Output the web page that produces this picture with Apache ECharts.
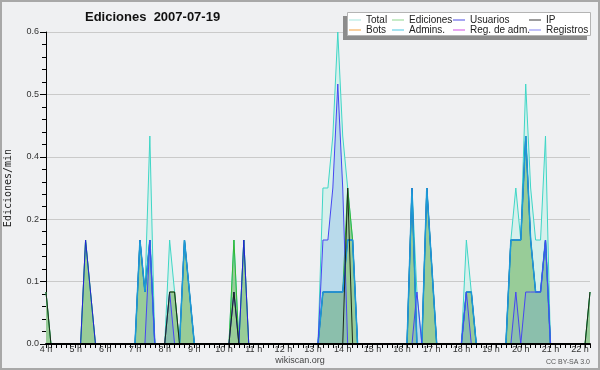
<!DOCTYPE html>
<html>
<head>
<meta charset="utf-8">
<script src="https://cdn.jsdelivr.net/npm/echarts@6/dist/echarts.min.js"></script>
<style>
html,body{margin:0;padding:0;background:#eff0f2;}
#chart{width:600px;height:370px;}
</style>
</head>
<body>
<div id="chart"></div>
<script>
// ---- axis / tick labels ----
const hourLabels = ['4 h','5 h','6 h','7 h','8 h','9 h','10 h','11 h','12 h','13 h','14 h','15 h','16 h','17 h','18 h','19 h','20 h','21 h','22 h'];
const yTickLabels = ['0.0','0.1','0.2','0.4','0.5','0.6'];
const startHour = 4, binMinutes = 10, binCount = 111; // 04:00 .. 22:20
const timeCategories = [];
for (let k = 0; k < binCount; k++) {
  const m = startHour * 60 + k * binMinutes;
  timeCategories.push(String(Math.floor(m / 60)).padStart(2, '0') + ':' + String(m % 60).padStart(2, '0'));
}

// ---- series values (edits/min), one row per hour, 10-minute bins ----
const total = [
  0.1,0,0,0,0,0,          // 4 h
  0,0,0.2,0.1,0,0,        // 5 h
  0,0,0,0,0,0,            // 6 h
  0,0.2,0.1,0.4,0,0,      // 7 h
  0,0.2,0.1,0,0.2,0.1,    // 8 h
  0,0,0,0,0,0,            // 9 h
  0,0,0.2,0,0.2,0,        // 10 h
  0,0,0,0,0,0,            // 11 h
  0,0,0,0,0,0,            // 12 h
  0,0,0.3,0.3,0.4,0.6,    // 13 h
  0.4,0.3,0.2,0,0,0,      // 14 h
  0,0,0,0,0,0,            // 15 h
  0,0,0.3,0.1,0,0.3,      // 16 h
  0.15,0,0,0,0,0,         // 17 h
  0,0.2,0.1,0,0,0,        // 18 h
  0,0,0,0,0.2,0.3,        // 19 h
  0.2,0.5,0.3,0.2,0.2,0.4,// 20 h
  0,0,0,0,0,0,            // 21 h
  0,0,0.1                 // 22 h
];
const ediciones = [
  0.1,0,0,0,0,0,
  0,0,0.2,0.1,0,0,
  0,0,0,0,0,0,
  0,0.2,0.1,0.2,0,0,
  0,0.1,0.1,0,0.2,0.1,
  0,0,0,0,0,0,
  0,0,0.2,0,0.2,0,
  0,0,0,0,0,0,
  0,0,0,0,0,0,
  0,0,0.1,0.1,0.1,0.1,
  0.1,0.3,0.2,0,0,0,
  0,0,0,0,0,0,
  0,0,0.3,0,0,0.3,
  0.15,0,0,0,0,0,
  0,0.1,0.1,0,0,0,
  0,0,0,0,0.2,0.2,
  0.2,0.4,0.2,0.1,0.1,0.2,
  0,0,0,0,0,0,
  0,0,0.1
];
const usuarios = [
  0,0,0,0,0,0,
  0,0,0.2,0.1,0,0,
  0,0,0,0,0,0,
  0,0.2,0.1,0.2,0,0,
  0,0,0,0,0.2,0.1,
  0,0,0,0,0,0,
  0,0,0.1,0,0.2,0,
  0,0,0,0,0,0,
  0,0,0,0,0,0,
  0,0,0.1,0.1,0.1,0.1,
  0.1,0.2,0.2,0,0,0,
  0,0,0,0,0,0,
  0,0,0.3,0,0,0.3,
  0.15,0,0,0,0,0,
  0,0.1,0.1,0,0,0,
  0,0,0,0,0.2,0.2,
  0.2,0.4,0.2,0.1,0.1,0.2,
  0,0,0,0,0,0,
  0,0,0
];
const ip = [
  0.1,0,0,0,0,0,
  0,0,0,0,0,0,
  0,0,0,0,0,0,
  0,0,0,0,0,0,
  0,0.1,0.1,0,0,0,
  0,0,0,0,0,0,
  0,0,0.1,0,0,0,
  0,0,0,0,0,0,
  0,0,0,0,0,0,
  0,0,0,0,0,0,
  0,0.3,0,0,0,0,
  0,0,0,0,0,0,
  0,0,0,0,0,0,
  0,0,0,0,0,0,
  0,0,0,0,0,0,
  0,0,0,0,0,0,
  0,0,0,0,0,0,
  0,0,0,0,0,0,
  0,0,0.1
];
const bots = [];
const admins = [
  0,0,0,0,0,0,
  0,0,0,0,0,0,
  0,0,0,0,0,0,
  0,0.2,0.1,0.2,0,0,
  0,0,0,0,0.2,0.1,
  0,0,0,0,0,0,
  0,0,0,0,0,0,
  0,0,0,0,0,0,
  0,0,0,0,0,0,
  0,0,0.1,0.1,0.1,0.1,
  0.1,0.2,0.2,0,0,0,
  0,0,0,0,0,0,
  0,0,0.3,0,0,0.3,
  0.15,0,0,0,0,0,
  0,0.1,0.1,0,0,0,
  0,0,0,0,0.2,0.2,
  0.2,0.4,0.2,0.1,0.1,0.2,
  0,0,0,0,0,0,
  0,0,0
];
const regAdm = [];
const registros = [
  0,0,0,0,0,0,
  0,0,0,0,0,0,
  0,0,0,0,0,0,
  0,0,0,0.2,0,0,
  0,0.1,0,0,0,0,
  0,0,0,0,0,0,
  0,0,0,0,0,0,
  0,0,0,0,0,0,
  0,0,0,0,0,0,
  0,0,0.2,0.2,0.3,0.5,
  0.3,0,0,0,0,0,
  0,0,0,0,0,0,
  0,0,0,0.1,0,0,
  0,0,0,0,0,0,
  0,0.1,0,0,0,0,
  0,0,0,0,0,0.1,
  0,0.1,0.1,0.1,0.1,0.2,
  0,0,0,0,0,0,
  0,0,0
];

const legendFont = {fontFamily:"'Liberation Sans', Arial, sans-serif", fontSize:10, color:'#222', lineHeight:10};
const axisFont = "'Liberation Sans Narrow','Liberation Sans',Arial,sans-serif";
const legendColors = {
  'Total':'#a6e6df', 'Ediciones':'#8ed68e', 'Usuarios':'#4a4ae2', 'IP':'#3a3a3a',
  'Bots':'#f2a040', 'Admins.':'#4cc6e0', 'Reg. de adm.':'#d04ee2', 'Registros':'#8282f2'
};

function lineSeries(name, data, color, width, area) {
  const s = {
    name, type:'line', data, symbol:'none', showSymbol:false, silent:true,
    lineStyle:{color, width}, itemStyle:{color},
    emphasis:{disabled:true}
  };
  if (area) s.areaStyle = {color: area, opacity: 1};
  return s;
}

function legendCol(items, left) {
  return {
    data: items.map(n => ({name:n, icon:'rect', itemStyle:{color:legendColors[n], borderWidth:0}})),
    orient:'vertical', left, top:15, padding:0, itemGap:0,
    itemWidth:12, itemHeight:1, selectedMode:false, z:5,
    textStyle: legendFont
  };
}

const chart = echarts.init(document.getElementById('chart'), null, {renderer:'canvas'});
chart.setOption({
  animation:false,
  backgroundColor:'#eff0f2',
  title:{
    text:'Ediciones  2007-07-19', left:85, top:11, padding:0,
    textStyle:{fontFamily:"'Liberation Sans', Arial, sans-serif", fontWeight:'bold', fontSize:13, color:'#111'}
  },
  legend:[
    legendCol(['Total','Bots'], 349),
    legendCol(['Ediciones','Admins.'], 392),
    legendCol(['Usuarios','Reg. de adm.'], 453),
    legendCol(['IP','Registros'], 529)
  ],
  grid:{left:46, right:10, top:32, bottom:26, containLabel:false, outerBoundsMode:'none'},
  xAxis:{
    type:'category', data: timeCategories, boundaryGap:false, z:10,
    axisLine:{lineStyle:{color:'#000', width:2}},
    axisTick:{show:true, interval:0, length:4, lineStyle:{color:'#000', width:1}},
    axisLabel:{
      interval:(i)=> i % 6 === 0,
      formatter:(v, i)=> hourLabels[Math.round(i / 6)],
      margin:1, fontSize:9, color:'#333', fontFamily:axisFont
    },
    splitLine:{show:false}
  },
  yAxis:{
    type:'value', min:0, max:0.6, interval:0.12,
    axisLine:{show:true, lineStyle:{color:'#000', width:1}},
    axisTick:{show:true, length:6, lineStyle:{color:'#000'}},
    minorTick:{show:true, splitNumber:5, length:4, lineStyle:{color:'#000'}},
    splitLine:{show:true, lineStyle:{color:'#cacaca', width:1}},
    axisLabel:{
      formatter:(v)=> yTickLabels[Math.round(v / 0.12)],
      margin:7, fontSize:9, color:'#333', fontFamily:axisFont
    },
    name:'Ediciones/min', nameLocation:'middle', nameGap:33, nameRotate:90,
    nameTextStyle:{fontFamily:"'DejaVu Sans Mono', monospace", fontSize:10, color:'#222'}
  },
  series:[
    lineSeries('Total', total, '#3fd6c6', 1, '#d6f0ec'),
    lineSeries('Ediciones', ediciones, '#34b834', 1, '#98cc98'),
    lineSeries('Bots', bots, '#f0a040', 1),
    lineSeries('Reg. de adm.', regAdm, '#d040e0', 1),
    lineSeries('Usuarios', usuarios, '#2222d8', 1),
    lineSeries('Admins.', admins, '#1c9ad8', 1.5),
    lineSeries('Registros', registros, '#4646f2', 1, 'rgba(100,150,230,0.25)'),
    lineSeries('IP', ip, '#1c2a1c', 1)
  ],
  graphic:[
    {type:'rect', z:0, silent:true, shape:{x:1, y:1, width:598, height:368}, style:{fill:'none', stroke:'#a8a8a8', lineWidth:2}},
    {type:'rect', z:1, silent:true, shape:{x:343, y:16, width:244, height:24}, style:{fill:'#8c8c8c'}},
    {type:'rect', z:1, silent:true, shape:{x:347.5, y:12.5, width:243, height:23}, style:{fill:'#ffffff', stroke:'#b4b4b4', lineWidth:1}},
    {type:'text', z:1, silent:true, left:'center', top:356, style:{text:'wikiscan.org', fontSize:9, fill:'#444', fontFamily:"'Liberation Sans', Arial, sans-serif"}},
    {type:'text', z:1, silent:true, right:10, top:359, style:{text:'CC BY-SA 3.0', fontSize:7, fill:'#555', fontFamily:"'Liberation Sans', Arial, sans-serif"}}
  ]
});
</script>
</body>
</html>
